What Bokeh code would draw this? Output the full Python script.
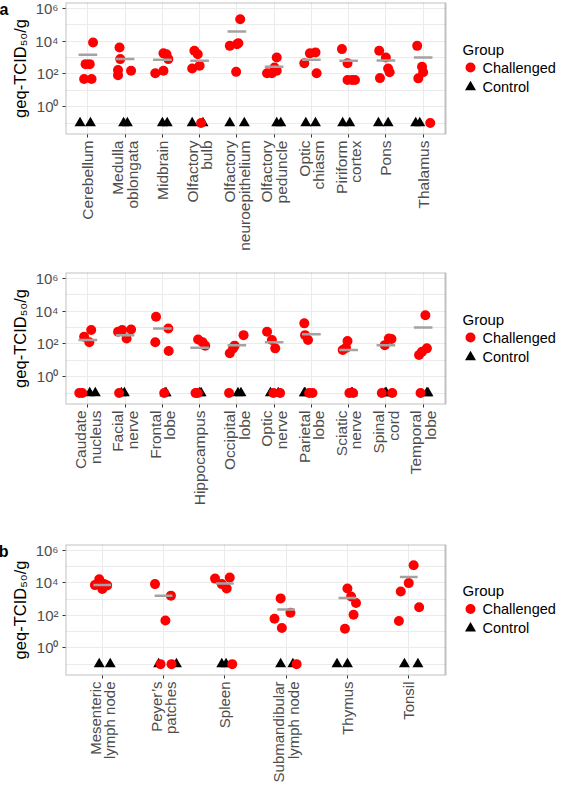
import math
from bokeh.plotting import figure
from bokeh.models import (Range1d, FixedTicker, CustomJSTickFormatter, Label, BoxAnnotation, LogAxis)
from bokeh.layouts import column
from bokeh.embed import file_html
from bokeh.resources import INLINE

# ------------------------------------------------------------------ data
legend_title = "Group"
group_names = ["Challenged", "Control"]
y_title = "geq-TCID\u2085\u2080/g"

# panel a (top): brain regions
a1_categories = ["Cerebellum", "Medulla\noblongata", "Midbrain", "Olfactory\nbulb",
                 "Olfactory\nneuroepithelium", "Olfactory\npeduncle", "Optic\nchiasm",
                 "Piriform\ncortex", "Pons", "Thalamus"]
a1_challenged = [
    [8500, 400, 400, 49, 49],
    [4200, 174, 85, 158, 810],
    [112, 158, 1820, 1620, 810],
    [219, 2630, 1620, 316, 0.1],
    [224000, 5250, 6600, 7600, 135],
    [1020, 112, 112, 158, 251],
    [457, 1820, 2090, 112],
    [3310, 457, 43, 43, 43],
    [2630, 1020, 219, 126, 56],
    [5250, 275, 126, 54, 0.1],
]
a1_challenged_jitter = [
    [0.14, -0.06, 0.05, -0.10, 0.10],
    [-0.15, -0.19, -0.19, 0.16, -0.13],
    [-0.19, 0.03, 0.03, 0.11, 0.16],
    [-0.20, -0.14, -0.05, 0.00, 0.04],
    [0.09, -0.19, 0.00, 0.04, -0.02],
    [0.07, -0.19, -0.06, 0.07, 0.01],
    [-0.19, -0.04, 0.11, 0.14],
    [-0.18, -0.03, -0.03, 0.09, 0.17],
    [-0.18, 0.00, 0.06, 0.10, -0.16],
    [-0.16, -0.03, 0.00, -0.13, 0.19],
]
a1_control = [[0.1, 0.1]] * 10
a1_control_jitter = [[-0.21, 0.07], [-0.04, 0.06], [0.00, 0.13], [-0.20, 0.09], [-0.19, 0.20],
                     [0.07, 0.18], [-0.15, 0.11], [-0.16, 0.03], [-0.20, 0.06], [-0.20, -0.09]]
a1_mean = [1480, 813, 741, 646, 39800, 275, 741, 646, 676, 1023]

# panel a (middle): brain regions and nerves
a2_categories = ["Caudate\nnucleus", "Facial\nnerve", "Frontal\nlobe", "Hippocampus",
                 "Occipital\nlobe", "Optic\nnerve", "Parietal\nlobe", "Sciatic\nnerve",
                 "Spinal\ncord", "Temporal\nlobe"]
a2_challenged = [
    [275, 708, 126, 0.1, 0.1],
    [562, 708, 776, 219, 0.1],
    [4570, 126, 891, 37, 0.1],
    [190, 126, 79, 0.1, 0.1],
    [27, 54, 79, 347, 0.1],
    [562, 174, 54, 0.1, 0.1],
    [1820, 347, 174, 0.1, 0.1],
    [43, 151, 58, 0.1, 0.1],
    [85, 219, 200, 0.1, 0.1],
    [5750, 21, 34, 54, 0.1],
]
a2_challenged_jitter = [
    [-0.10, 0.09, 0.04, -0.23, -0.15],
    [-0.19, -0.08, 0.16, 0.04, -0.16],
    [-0.17, -0.19, 0.16, 0.17, 0.05],
    [-0.04, 0.08, 0.15, -0.11, -0.05],
    [-0.19, -0.10, -0.06, 0.18, -0.21],
    [-0.19, -0.06, 0.03, -0.02, 0.16],
    [-0.19, -0.17, -0.09, -0.06, 0.03],
    [-0.16, -0.03, -0.07, 0.02, 0.12],
    [-0.03, 0.08, 0.15, -0.11, 0.17],
    [0.06, -0.11, -0.03, 0.10, -0.07],
]
a2_control = [[0.1, 0.1]] * 10
a2_control_jitter = [[0.05, 0.20], [-0.10, -0.02], [0.07, 0.10], [0.00, 0.04], [0.03, 0.11],
                     [-0.10, 0.11], [-0.19, -0.17], [0.07, 0.10], [-0.02, 0.01], [0.10, 0.13]]
a2_mean = [174, 347, 891, 59, 85, 126, 389, 43, 85, 1000]

# panel b: lymphoid tissues
b_categories = ["Mesenteric\nlymph node", "Peyer\u2019s\npatches", "Spleen",
                "Submandibular\nlymph node", "Thymus", "Tonsil"]
b_challenged = [
    [17000, 7400, 4200, 7100, 8500],
    [8500, 1660, 49, 0.1, 0.1],
    [18600, 21400, 8500, 4600, 0.1],
    [1120, 62, 17, 145, 0.1],
    [4570, 1480, 589, 110, 15],
    [123000, 9800, 3000, 316, 45],
]
b_challenged_jitter = [
    [-0.05, -0.12, 0.00, 0.08, 0.03],
    [-0.14, 0.12, 0.03, -0.05, 0.13],
    [-0.16, 0.08, -0.05, 0.03, 0.12],
    [-0.09, -0.19, -0.07, 0.07, 0.17],
    [0.00, 0.06, 0.14, 0.10, -0.04],
    [0.08, 0.00, -0.13, 0.17, -0.16],
]
b_control = [[0.1, 0.1]] * 6
b_control_jitter = [[-0.05, 0.13], [-0.08, 0.21], [-0.05, 0.02], [-0.09, 0.11], [-0.17, 0.00], [-0.07, 0.15]]
b_mean = [7400, 1660, 9300, 229, 1175, 23400]

# ------------------------------------------------------------------ styling
FONT = "Liberation Sans"
FRAME_H = 132
LEFT = 73
PANEL_W = 380          # width of the data panel
WIDTH = 566
LOG_BOT, LOG_TOP = -1.7, 6.37
DEC_PX = FRAME_H / (LOG_TOP - LOG_BOT)
RED = "#FF0000"
MEAN_GREY = "#A3A3A3"
BORDER = "#333333"

sup_js = """
const sup = {"-1": "\u207b\u00b9", "0": "\u2070", "1": "\u00b9", "2": "\u00b2", "3": "\u00b3",
             "4": "\u2074", "5": "\u2075", "6": "\u2076"};
const e = Math.round(Math.log10(tick));
return "10" + (sup[String(e)] || "");
"""


def flat(vals, jit):
    xs, ys = [], []
    for i, (vv, jj) in enumerate(zip(vals, jit)):
        for v, j in zip(vv, jj):
            xs.append(i + 1 + j)
            ys.append(v)
    return xs, ys


def screen_label(p, x, y, text, size):
    p.add_layout(Label(x=x, y=y, x_units="screen", y_units="screen", text=text,
                       text_font=FONT, text_font_size=size, text_font_style="normal",
                       text_color="black", text_baseline="middle", text_align="left"))


def make_panel(cats, chall, chall_j, ctrl, ctrl_j, means, top, bottom, half, xfont, tag=None):
    n = len(cats)
    unit = PANEL_W / (n + 0.2)
    x0, x1 = 0.4, n + 0.6
    x_end = x0 + (WIDTH - LEFT) / unit
    H = top + FRAME_H + bottom
    p = figure(width=WIDTH, height=H, y_axis_type="log",
               x_range=Range1d(x0, x_end), y_range=Range1d(10 ** LOG_BOT, 10 ** LOG_TOP),
               output_backend="svg", toolbar_location=None,
               min_border_left=LEFT, min_border_right=0,
               min_border_top=top, min_border_bottom=bottom)
    p.background_fill_color = "white"
    p.border_fill_color = "white"
    p.outline_line_color = None

    # x axis
    p.xaxis.ticker = FixedTicker(ticks=list(range(1, n + 1)), minor_ticks=[])
    p.xaxis.major_label_overrides = {i + 1: c for i, c in enumerate(cats)}
    p.xaxis.major_label_orientation = math.pi / 2
    p.xaxis.major_label_text_line_height = 0.85
    p.xgrid.ticker = FixedTicker(ticks=list(range(1, n + 1)), minor_ticks=[])

    # y axis
    yt = FixedTicker(ticks=[1, 1e2, 1e4, 1e6], minor_ticks=[0.1, 10, 1e3, 1e5])
    p.yaxis.ticker = yt
    p.ygrid.ticker = yt
    p.yaxis.formatter = CustomJSTickFormatter(code=sup_js)
    p.yaxis.axis_label = y_title
    p.yaxis.axis_label_text_font = FONT
    p.yaxis.axis_label_text_font_size = "16.5px"
    p.yaxis.axis_label_text_font_style = "normal"
    p.yaxis.axis_label_text_color = "black"
    p.yaxis.axis_label_standoff = 3

    for ax in (p.xaxis, p.yaxis):
        ax.axis_line_color = None
        ax.major_tick_line_color = BORDER
        ax.major_tick_out = 3
        ax.major_tick_in = 0
        ax.minor_tick_line_color = None
        ax.major_label_text_font = FONT
        ax.major_label_text_color = "#4D4D4D"
        ax.major_label_standoff = 3
    p.xaxis.major_label_text_font_size = xfont
    p.yaxis.major_label_text_font_size = "15px"

    p.xgrid.grid_line_color = "#EBEBEB"
    p.ygrid.grid_line_color = "#EBEBEB"
    p.ygrid.minor_grid_line_color = "#EBEBEB"
    p.xgrid.grid_line_width = 1
    p.ygrid.grid_line_width = 1
    p.ygrid.minor_grid_line_width = 1

    # blank legend area to the right of the panel, and the panel border
    p.add_layout(BoxAnnotation(left=x1, fill_color="white", fill_alpha=1.0,
                               line_color=None, level="underlay"))
    p.add_layout(BoxAnnotation(left=x0, right=x1, fill_alpha=0.0, line_color=BORDER,
                               line_width=2, level="overlay"))

    # data
    cx, cy = flat(ctrl, ctrl_j)
    hx, hy = flat(chall, chall_j)
    p.scatter(x=cx, y=cy, marker="triangle", size=11, fill_color="black", line_color=None)
    p.scatter(x=hx, y=hy, marker="circle", size=10, fill_color=RED, line_color=None)
    xs = list(range(1, n + 1))
    p.segment(x0=[x - half for x in xs], x1=[x + half for x in xs], y0=means, y1=means,
              line_color=MEAN_GREY, line_width=2.5)

    # legend (keys placed in the blank area right of the panel)
    key_x = x0 + (PANEL_W + 25) / unit
    key_y = [10 ** (LOG_TOP - 65 / DEC_PX), 10 ** (LOG_TOP - 84.5 / DEC_PX)]
    p.scatter(x=[key_x], y=[key_y[0]], marker="circle", size=10, fill_color=RED, line_color=None)
    p.scatter(x=[key_x], y=[key_y[1]], marker="triangle", size=11, fill_color="black", line_color=None)
    screen_label(p, PANEL_W + 17, FRAME_H - 47, legend_title, "15px")
    screen_label(p, PANEL_W + 37, FRAME_H - 65, group_names[0], "14.5px")
    screen_label(p, PANEL_W + 37, FRAME_H - 84, group_names[1], "14.5px")

    # panel tag ("a", "b") as an outer left axis label near the top
    if tag:
        tag_axis = LogAxis(ticker=FixedTicker(ticks=[10 ** (LOG_TOP - 7 / DEC_PX)], minor_ticks=[]),
                           formatter=CustomJSTickFormatter(code='return "%s";' % tag),
                           axis_line_color=None, major_tick_line_color=None,
                           minor_tick_line_color=None, major_tick_out=0, major_tick_in=0,
                           major_label_standoff=0, major_label_text_font=FONT,
                           major_label_text_font_size="16px", major_label_text_font_style="bold",
                           major_label_text_color="black")
        p.add_layout(tag_axis, "left")
    return p


p1 = make_panel(a1_categories, a1_challenged, a1_challenged_jitter, a1_control, a1_control_jitter,
                a1_mean, top=10, bottom=134, half=0.25, xfont="15.5px", tag="a")
p2 = make_panel(a2_categories, a2_challenged, a2_challenged_jitter, a2_control, a2_control_jitter,
                a2_mean, top=4, bottom=136, half=0.25, xfont="15.5px")
p3 = make_panel(b_categories, b_challenged, b_challenged_jitter, b_control, b_control_jitter,
                b_mean, top=4, bottom=109, half=0.145, xfont="15px", tag="b")

layout = column(p1, p2, p3, spacing=0, styles={"margin": "-8px"})

open("out.html", "w").write(file_html(layout, INLINE))
